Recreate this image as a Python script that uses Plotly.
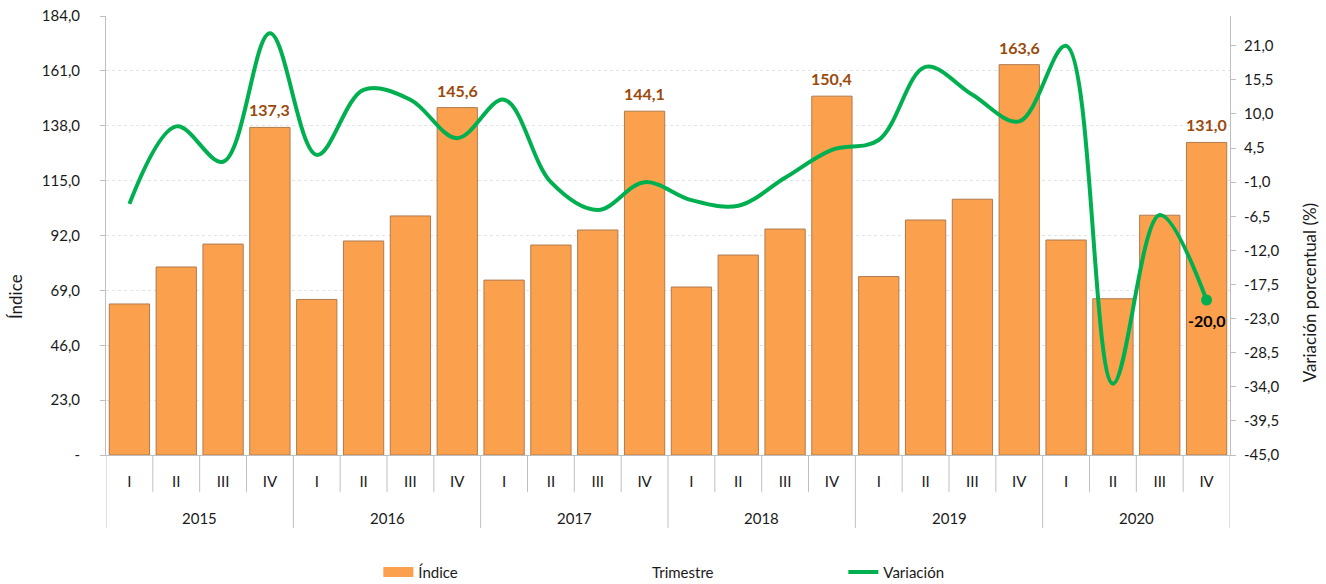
import plotly.graph_objects as go

years = ["2015", "2016", "2017", "2018", "2019", "2020"]
quarters = ["I", "II", "III", "IV"]
indice = [63.3, 78.8, 88.4, 137.3,
          65.2, 89.7, 100.2, 145.6,
          73.3, 88.0, 94.3, 144.1,
          70.4, 83.8, 94.7, 150.4,
          74.8, 98.5, 107.2, 163.6,
          90.1, 65.5, 100.5, 131.0]
variacion = [-4.5, 8.0, 2.3, 23.0,
             3.4, 13.9, 12.3, 6.1,
             12.3, -1.0, -5.5, -1.0,
             -3.9, -4.8, -0.3, 4.2,
             5.8, 17.6, 13.1, 8.8,
             21.0, -33.5, -6.3, -20.0]
left_ticks = [0, 23, 46, 69, 92, 115, 138, 161, 184]
right_ticks = [-45 + 5.5 * k for k in range(13)]

xq = [q for y in years for q in quarters]
xcat = [f"{q} {y}" for y in years for q in quarters]
n = len(xcat)
nq = len(quarters)

def fmt(v):
    return f"{v:.1f}".replace(".", ",")

font = "Lato"
ORANGE = "#FBA14E"
GREEN = "#00B050"
GRID = "#BFBFBF"

fig = go.Figure()
fig.add_trace(go.Bar(
    x=xcat, y=indice, name="Índice", showlegend=False,
    marker=dict(color=ORANGE, line=dict(color="#B07A4E", width=1)),
    width=0.86,
))
# legend entry for the bars (wide rectangle like the original)
fig.add_trace(go.Scatter(
    x=[None], y=[None], name="Índice", mode="lines",
    line=dict(color=ORANGE, width=10),
))
fig.add_trace(go.Scatter(
    x=xcat, y=variacion, name="Variación", yaxis="y2",
    mode="lines", line=dict(color=GREEN, width=4, shape="spline", smoothing=1.0),
))
fig.add_trace(go.Scatter(
    x=[xcat[-1]], y=[variacion[-1]], yaxis="y2", showlegend=False,
    mode="markers", marker=dict(color=GREEN, size=11),
))

annotations = []
for c, v, q in zip(xcat, indice, xq):
    if q == "IV":
        annotations.append(dict(x=c, y=v, xref="x", yref="y", text=f"<b>{fmt(v)}</b>",
                                showarrow=False, yanchor="bottom", yshift=6,
                                font=dict(family=font, size=16, color="#9C4A0C")))
annotations.append(dict(x=xcat[-1], y=variacion[-1], xref="x", yref="y2",
                        text=f"<b>{fmt(variacion[-1])}</b>", showarrow=False,
                        yanchor="top", yshift=-9,
                        font=dict(family=font, size=16, color="#000000")))
for i, y in enumerate(years):
    annotations.append(dict(x=i * nq + (nq - 1) / 2, y=-0.1435, xref="x", yref="paper",
                            text=y, showarrow=False, yanchor="middle",
                            font=dict(family=font, size=15, color="#1a1a1a")))
annotations += [
    dict(text="Índice", xref="paper", yref="paper", x=-0.081, y=0.362, textangle=-90,
         xanchor="center", yanchor="middle", showarrow=False, font=dict(family=font, size=17)),
    dict(text="Variación porcentual (%)", xref="paper", yref="paper", x=1.071, y=0.37,
         textangle=-90, xanchor="center", yanchor="middle", showarrow=False,
         font=dict(family=font, size=17)),
    dict(text="Trimestre", xref="paper", yref="paper", x=0.513, y=-0.267,
         xanchor="center", yanchor="middle", showarrow=False, font=dict(family=font, size=15)),
]

shapes = []
for k in range(n + 1):
    is_year = (k % nq == 0)
    shapes.append(dict(type="line", xref="x", yref="paper", x0=k - 0.5, x1=k - 0.5,
                       y0=0, y1=-0.166 if is_year else -0.084,
                       line=dict(color=GRID, width=1)))

fig.update_layout(
    width=1326, height=584,
    margin=dict(l=106, r=96, t=16, b=129, autoexpand=False),
    plot_bgcolor="white", paper_bgcolor="white",
    font=dict(family=font, size=14, color="#1a1a1a"),
    showlegend=True,
    legend=dict(orientation="h", x=0.2423, xanchor="left", y=-0.267, yanchor="middle",
                entrywidth=420, entrywidthmode="pixels",
                font=dict(family=font, size=15), traceorder="normal"),
    xaxis=dict(type="category", range=[-0.5, n - 0.5], tickvals=xcat, ticktext=xq,
               showline=True, linecolor=GRID, linewidth=1,
               ticks="outside", ticklen=13, tickcolor="rgba(0,0,0,0)",
               tickfont=dict(family=font, size=15), showgrid=False),
    yaxis=dict(range=[0, 184], tickvals=left_ticks,
               ticktext=["-" if v == 0 else fmt(v) for v in left_ticks],
               showline=True, linecolor=GRID, ticks="outside", ticklen=5, tickcolor=GRID,
               ticklabelstandoff=17, ticklabeloverflow="allow",
               showgrid=True, gridcolor="#E3E3E3", griddash="dot", zeroline=False,
               tickfont=dict(family=font, size=15)),
    yaxis2=dict(range=[-45, 25.8], tickvals=right_ticks, ticktext=[fmt(v) for v in right_ticks],
                overlaying="y", side="right", showline=True, linecolor=GRID,
                ticks="outside", ticklen=5, tickcolor=GRID, ticklabelstandoff=5,
                ticklabeloverflow="allow",
                showgrid=False, zeroline=False,
                tickfont=dict(family=font, size=15)),
    annotations=annotations,
    shapes=shapes,
)
fig.write_html("out.html", config={"displayModeBar": False},
               post_script="document.body.style.margin='0';")
